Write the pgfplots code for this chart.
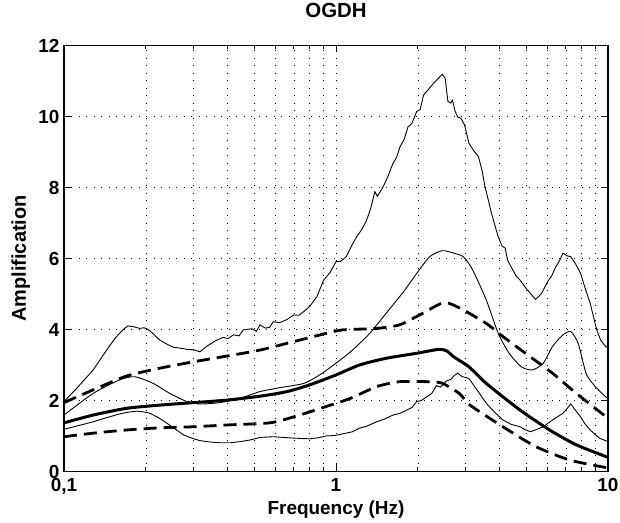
\documentclass[border=0pt]{standalone}
\usepackage{fontspec}
\setmainfont{Liberation Sans}
\usepackage{pgfplots}
\pgfplotsset{compat=1.18}
\begin{document}
\begin{tikzpicture}
\begin{axis}[
  scale only axis, width=544bp, height=426bp,
  xmode=log, log basis x=10,
  xmin=0.1, xmax=10, ymin=0, ymax=12,
  xtick={0.1,1,10}, xticklabels={{0,1},1,10},
  minor xtick={0.2,0.3,0.4,0.5,0.6,0.7,0.8,0.9,2,3,4,5,6,7,8,9},
  ytick={0,2,4,6,8,10,12},
  grid=both,
  major grid style={black, line width=0.6bp, dash pattern=on 1bp off 6.5bp},
  minor grid style={black, line width=0.6bp, dash pattern=on 1bp off 6.5bp},
  tick align=inside,
  major tick length=7bp, minor tick length=4bp,
  axis line style={line width=1.3bp},
  every tick/.style={black, line width=0.8bp},
  /pgf/number format/assume math mode=true,
  tick label style={font=\fontsize{19}{21}\selectfont\bfseries},
  yticklabel style={xshift=-1bp},
  xticklabel style={yshift=-3bp},
  title={OGDH},
  title style={font=\fontsize{20.5}{23}\selectfont\bfseries, at={(axis description cs:0.5,1)}, anchor=base, yshift=22bp},
  xlabel={Frequency (Hz)},
  xlabel style={font=\fontsize{19}{22}\selectfont\bfseries, at={(axis description cs:0.5,0)}, anchor=base, yshift=-43bp},
  ylabel={Amplification},
  ylabel style={font=\fontsize{20}{22}\selectfont\bfseries, at={(axis description cs:-0.0699,0.5)}, anchor=base},
]
\coordinate (bl) at (rel axis cs:0,0);
\coordinate (tr) at (rel axis cs:1,1);
% max curve
\addplot[black, line width=0.9bp] coordinates {
(0.1,1.97) (0.11,2.3) (0.12,2.62) (0.128,2.86) (0.14,3.3) (0.154,3.75) (0.165,4.0) (0.172,4.10) (0.18,4.08) (0.19,4.03) (0.197,4.05) (0.204,4.0)
(0.215,3.85) (0.225,3.70) (0.24,3.58) (0.252,3.50) (0.27,3.47) (0.283,3.44) (0.3,3.43) (0.316,3.37) (0.334,3.52) (0.36,3.68) (0.385,3.78)
(0.40,3.74) (0.42,3.85) (0.44,3.82) (0.456,3.99) (0.49,4.02) (0.51,3.95) (0.525,4.13) (0.55,4.04) (0.57,4.06) (0.588,4.22) (0.62,4.19) (0.66,4.28)
(0.70,4.41) (0.73,4.40) (0.76,4.50) (0.80,4.65) (0.85,4.92) (0.88,5.2) (0.90,5.39) (0.95,5.6) (1.0,5.91) (1.04,5.92) (1.09,6.05) (1.14,6.35) (1.19,6.61)
(1.24,6.8) (1.29,7.04) (1.34,7.4) (1.39,7.88) (1.42,7.75) (1.49,8.02) (1.55,8.3) (1.62,8.68) (1.67,8.85) (1.72,9.15) (1.78,9.35) (1.84,9.71) (1.9,9.8)
(1.98,10.14) (2.04,10.2) (2.10,10.61) (2.18,10.75) (2.28,10.93) (2.36,11.05) (2.46,11.19) (2.52,11.08) (2.58,10.42) (2.64,10.38) (2.68,10.46)
(2.74,10.15) (2.80,9.99) (2.88,9.95) (2.97,9.76) (3.08,9.25) (3.2,9.05) (3.34,8.87) (3.45,8.45) (3.53,8.02) (3.63,7.65) (3.73,7.27) (3.85,6.9)
(3.95,6.61) (4.08,6.35) (4.19,6.29) (4.27,5.96) (4.45,5.7) (4.6,5.5) (4.75,5.39) (4.95,5.2) (5.18,5.02) (5.41,4.85) (5.55,4.92) (5.70,5.02)
(6.0,5.35) (6.2,5.5) (6.43,5.77) (6.65,5.95) (6.83,6.15) (7.05,6.08) (7.30,6.05) (7.6,5.85) (7.93,5.58) (8.25,5.15) (8.60,4.74) (8.85,4.35)
(9.09,3.99) (9.4,3.7) (9.8,3.52) (10,3.48)
};
% upper mean curve
\addplot[black, line width=0.9bp, smooth, tension=0.4] coordinates {
(0.1,1.59) (0.128,2.20) (0.16,2.58) (0.182,2.67) (0.213,2.48) (0.245,2.20) (0.283,1.97) (0.316,1.90) (0.374,1.94) (0.443,2.06)
(0.525,2.25) (0.62,2.36) (0.76,2.48) (0.87,2.72) (1.0,3.05) (1.15,3.42) (1.33,3.89) (1.53,4.46) (1.77,5.06) (1.98,5.58) (2.21,6.05)
(2.46,6.22) (2.71,6.15) (2.94,6.05) (3.18,5.68) (3.57,4.83) (3.95,3.89) (4.33,3.33) (4.8,2.95) (5.27,2.86) (5.78,3.05) (6.25,3.52)
(6.83,3.85) (7.30,3.94) (7.77,3.61) (8.3,2.77) (8.78,2.48) (9.5,2.20) (10,2.05)
};
% thick mean
\addplot[black, line width=3bp, smooth, tension=0.4] coordinates {
(0.1,1.37) (0.128,1.59) (0.17,1.78) (0.225,1.87) (0.299,1.94) (0.396,2.01) (0.525,2.12) (0.66,2.25) (0.8,2.44) (1.0,2.72)
(1.22,3.0) (1.53,3.19) (1.98,3.33) (2.38,3.44) (2.55,3.40) (2.71,3.23) (3.08,2.95) (3.57,2.48) (4.75,1.73) (6.1,1.17) (7.65,0.75) (10,0.40)
};
% upper dashed
\addplot[black, line width=2.8bp, dash pattern=on 13bp off 7bp, smooth, tension=0.4] coordinates {
(0.1,1.94) (0.128,2.30) (0.17,2.69) (0.225,2.91) (0.299,3.09) (0.396,3.25) (0.525,3.42) (0.70,3.66) (0.92,3.89) (1.06,3.99)
(1.41,4.03) (1.71,4.13) (2.03,4.41) (2.41,4.72) (2.6,4.74) (2.94,4.55) (3.57,4.17) (4.11,3.80) (5.18,3.23) (6.25,2.77) (7.65,2.20) (10,1.50)
};
% lower dashed
\addplot[black, line width=2.8bp, dash pattern=on 13bp off 7bp, smooth, tension=0.4] coordinates {
(0.1,0.98) (0.128,1.08) (0.17,1.17) (0.225,1.23) (0.299,1.26) (0.396,1.31) (0.57,1.37) (0.70,1.54) (0.92,1.83) (1.13,2.06)
(1.41,2.39) (1.71,2.53) (2.16,2.53) (2.45,2.49) (2.84,2.20) (3.11,1.87) (4.11,1.26) (5.43,0.70) (7.25,0.32) (10,0.10)
};
% min curve
\addplot[black, line width=0.9bp] coordinates {
(0.1,1.19) (0.114,1.30) (0.128,1.40) (0.144,1.52) (0.16,1.62) (0.172,1.67) (0.185,1.70) (0.196,1.68) (0.207,1.64) (0.222,1.52) (0.239,1.36)
(0.257,1.19) (0.275,1.03) (0.295,0.94) (0.316,0.87) (0.345,0.83) (0.374,0.81) (0.41,0.81) (0.443,0.84) (0.485,0.89) (0.525,0.96) (0.588,0.98)
(0.64,0.96) (0.70,0.94) (0.80,0.92) (0.86,0.95) (0.92,1.0) (1.0,1.02) (1.09,1.08) (1.15,1.12) (1.22,1.22) (1.3,1.28) (1.41,1.40)
(1.5,1.47) (1.62,1.59) (1.72,1.64) (1.82,1.73) (1.9,1.80) (1.98,1.97) (2.06,2.0) (2.16,2.11) (2.25,2.2) (2.34,2.42) (2.42,2.38)
(2.55,2.55) (2.65,2.6) (2.72,2.7) (2.80,2.77) (2.9,2.68) (3.08,2.62) (3.3,2.3) (3.57,1.92) (3.85,1.65) (4.11,1.45) (4.4,1.33)
(4.75,1.26) (4.95,1.18) (5.18,1.12) (5.45,1.18) (5.78,1.26) (6.25,1.45) (6.83,1.64) (7.05,1.76) (7.30,1.90) (7.6,1.72) (7.93,1.54)
(8.25,1.33) (8.6,1.17) (9.3,0.94) (10,0.84)
};
\end{axis}
\pgfresetboundingbox
\path[use as bounding box] ([shift={(-64bp,-51.5bp)}]bl) rectangle ([shift={(12bp,45.5bp)}]tr);
\end{tikzpicture}
\end{document}
